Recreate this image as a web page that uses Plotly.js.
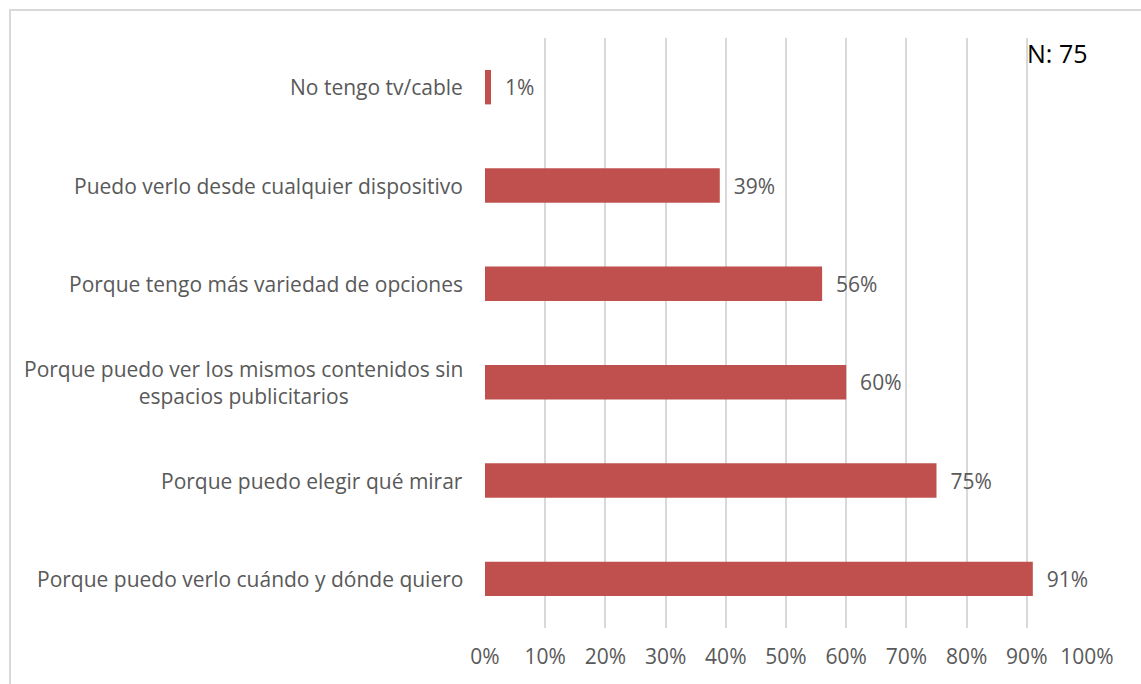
<!DOCTYPE html>
<html>
<head>
<meta charset="utf-8">
<script src="https://cdn.plot.ly/plotly-3.0.1.min.js"></script>
<style>
html,body{margin:0;padding:0;background:#fff;}
#frame{position:absolute;left:9px;top:9px;width:1200px;height:800px;border-left:2px solid #d9d9d9;border-top:2px solid #d9d9d9;box-sizing:border-box;}
#chart{position:absolute;left:0;top:0;width:1141px;height:684px;}
</style>
</head>
<body>
<div id="frame"></div>
<div id="chart"></div>
<script>
const categories = [
  "No tengo tv/cable",
  "Puedo verlo desde cualquier dispositivo",
  "Porque tengo más variedad de opciones",
  "Porque puedo ver los mismos contenidos sin<br>espacios publicitarios",
  "Porque puedo elegir qué mirar",
  "Porque puedo verlo cuándo y dónde quiero"
];
const values = [0.01, 0.39, 0.56, 0.60, 0.75, 0.91];
const valueLabels = ["1%", "39%", "56%", "60%", "75%", "91%"];
const noteText = "N: 75";

const font = "'Open Sans', sans-serif";
const grey = "#595959";

const trace = {
  type: "bar",
  orientation: "h",
  y: categories,
  x: values,
  marker: {color: "#C0504D"},
  text: valueLabels,
  texttemplate: "  %{text}",
  textposition: "outside",
  cliponaxis: false,
  textfont: {family: font, size: 21, color: grey},
  hoverinfo: "none"
};

const annotations = categories.map((c) => ({
  xref: "paper", yref: "y", x: 0, y: c, xanchor: "right", yanchor: "middle",
  xshift: -20, text: c, showarrow: false, align: "center",
  font: {family: font, size: 21, color: grey}
}));
annotations.push({
  xref: "paper", yref: "paper", x: 1, y: 1, xanchor: "right", yanchor: "top",
  yshift: 4, xshift: 2, text: noteText, showarrow: false,
  font: {family: font, size: 25, color: "#000"}
});

const layout = {
  width: 1141, height: 684,
  margin: {l: 485, r: 54, t: 38, b: 56},
  paper_bgcolor: "rgba(0,0,0,0)",
  plot_bgcolor: "rgba(0,0,0,0)",
  bargap: 0.65,
  showlegend: false,
  xaxis: {
    range: [0, 1], dtick: 0.1, tickformat: ".0%",
    showgrid: true, gridcolor: "#d9d9d9", gridwidth: 2,
    zeroline: false, showline: false, ticks: "",
    ticklabelstandoff: 14,
    tickfont: {family: font, size: 21, color: grey},
    fixedrange: true
  },
  yaxis: {
    autorange: "reversed", showticklabels: false, showgrid: false,
    zeroline: false, showline: false, ticks: "", fixedrange: true
  },
  annotations: annotations
};

Plotly.newPlot("chart", [trace], layout, {displayModeBar: false, staticPlot: true});
</script>
</body>
</html>
